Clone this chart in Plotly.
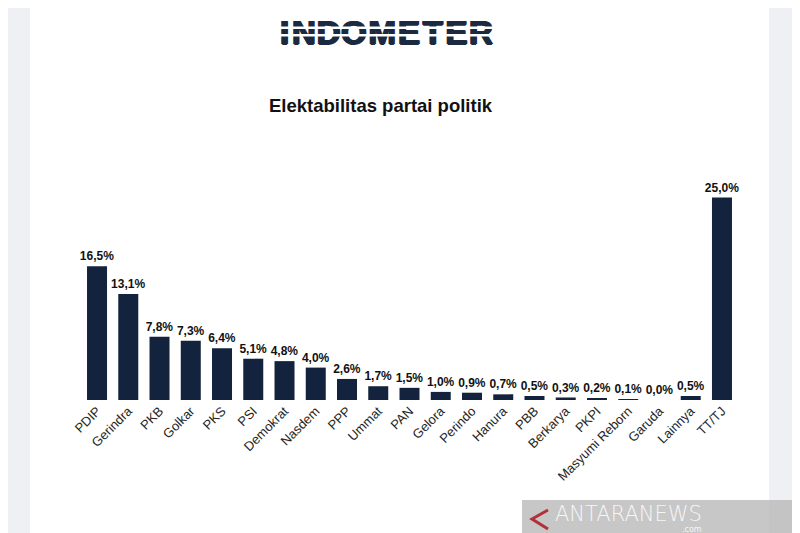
import plotly.graph_objects as go

parties = ["PDIP", "Gerindra", "PKB", "Golkar", "PKS", "PSI", "Demokrat", "Nasdem",
           "PPP", "Ummat", "PAN", "Gelora", "Perindo", "Hanura", "PBB", "Berkarya",
           "PKPI", "Masyumi Reborn", "Garuda", "Lainnya", "TT/TJ"]
values = [16.5, 13.1, 7.8, 7.3, 6.4, 5.1, 4.8, 4.0, 2.6, 1.7, 1.5, 1.0, 0.9, 0.7,
          0.5, 0.3, 0.2, 0.1, 0.0, 0.5, 25.0]

title_text = "Elektabilitas partai politik"
logo_letters = ["I", "N", "D", "O", "M", "E", "T", "E", "R"]
logo_centers = [284.5, 303.8, 328.6, 353.9, 382.2, 409, 432.8, 456.6, 480.9]

W, H = 800, 533
OFF = 8  # page body margin: figure is drawn at (8, 8) in the window
plot_left, plot_right = 81.4 - OFF, 737.6 - OFF
plot_top, plot_bottom = 150 - OFF, 400 - OFF
px_per_unit = 8.1
navy = "#1b2a40"

fig = go.Figure()

fig.add_trace(go.Bar(
    x=parties, y=values,
    marker=dict(color="#14233d", line=dict(width=0)),
    width=0.64,
    texttemplate="<b>%{y:.1f}%</b>",
    textposition="outside",
    textangle=0,
    constraintext="none",
    textfont=dict(family="Liberation Sans, Arial, sans-serif", size=12, color="#111111"),
    cliponaxis=False,
    xaxis="x", yaxis="y",
    hoverinfo="x+y",
))

# header logo: letters as scatter text on a full-page pixel axis, stripes drawn above
fig.add_trace(go.Scatter(
    x=[c - OFF for c in logo_centers], y=[35.5 - OFF] * len(logo_letters),
    mode="text", text=["<b>" + ch + "</b>" for ch in logo_letters],
    textposition="middle center",
    textfont=dict(family="Liberation Sans, Arial, sans-serif", size=33, color=navy,
                  weight="bold",
                  shadow="1px 0px 0px {0}, -1px 0px 0px {0}, 0px 1px 0px {0}".format(navy)),
    xaxis="x2", yaxis="y2", hoverinfo="skip", showlegend=False, cliponaxis=False,
))

fig.update_layout(
    width=W, height=H,
    margin=dict(l=0, r=0, t=0, b=0),
    paper_bgcolor="#eef0f3",
    plot_bgcolor="rgba(0,0,0,0)",
    separators=",.",
    showlegend=False,
    xaxis=dict(
        domain=[plot_left / W, plot_right / W],
        tickangle=-45,
        tickfont=dict(family="Liberation Sans, Arial, sans-serif", size=13, color="#262626"),
        showgrid=False, showline=False, zeroline=False, ticks="",
        automargin=False, anchor="y",
    ),
    yaxis=dict(
        domain=[(H - plot_bottom) / H, (H - plot_top) / H],
        range=[0, (plot_bottom - plot_top) / px_per_unit],
        visible=False, showgrid=False, zeroline=False,
        automargin=False, anchor="x",
    ),
    xaxis2=dict(domain=[0, 1], range=[0, W], visible=False,
                anchor="y2", fixedrange=True),
    yaxis2=dict(domain=[0, 1], range=[H, 0], visible=False,
                anchor="x2", fixedrange=True),
    shapes=[
        dict(type="rect", xref="paper", yref="paper", x0=(30 - OFF) / W, x1=(769 - OFF) / W,
             y0=0, y1=1, fillcolor="white", line=dict(width=0), layer="below"),
        # stripes across the logo
        dict(type="rect", xref="x2", yref="y2", x0=272 - OFF, x1=498 - OFF,
             y0=26.5 - OFF, y1=29 - OFF,
             fillcolor="white", line=dict(width=0), layer="above"),
        dict(type="rect", xref="x2", yref="y2", x0=272 - OFF, x1=498 - OFF,
             y0=34 - OFF, y1=36.5 - OFF,
             fillcolor="white", line=dict(width=0), layer="above"),
        # watermark box
        dict(type="rect", xref="x2", yref="y2", x0=522 - OFF, x1=W, y0=500 - OFF, y1=H,
             fillcolor="rgba(185,185,185,0.8)", line=dict(width=0), layer="above"),
        dict(type="path", xref="x2", yref="y2",
             path="M {a} {b} L {c} {d} L {a} {e}".format(a=548 - OFF, b=510 - OFF,
                                                         c=532 - OFF, d=519 - OFF,
                                                         e=529 - OFF),
             line=dict(color="#b0313c", width=3), layer="above"),
    ],
    annotations=[
        dict(text="<b>" + title_text + "</b>", x=(381 - OFF) / W, y=(H - (105 - OFF)) / H,
             xref="paper", yref="paper", showarrow=False,
             font=dict(family="Liberation Sans, Arial, sans-serif", size=18.5, color="#111111"),
             xanchor="center", yanchor="middle"),
        dict(text="ANTARANEWS", x=(553 - OFF) / W, y=(H - (514 - OFF)) / H,
             xref="paper", yref="paper",
             showarrow=False, xanchor="left", yanchor="middle",
             font=dict(family="DejaVu Sans, sans-serif", size=21, color="#f6f6f6",
                       weight=300)),
        dict(text=".com", x=(692 - OFF) / W, y=(H - (529 - OFF)) / H,
             xref="paper", yref="paper",
             showarrow=False, xanchor="center", yanchor="middle",
             font=dict(family="DejaVu Sans, sans-serif", size=8, color="#f6f6f6")),
    ],
)

fig.write_html("out.html")
